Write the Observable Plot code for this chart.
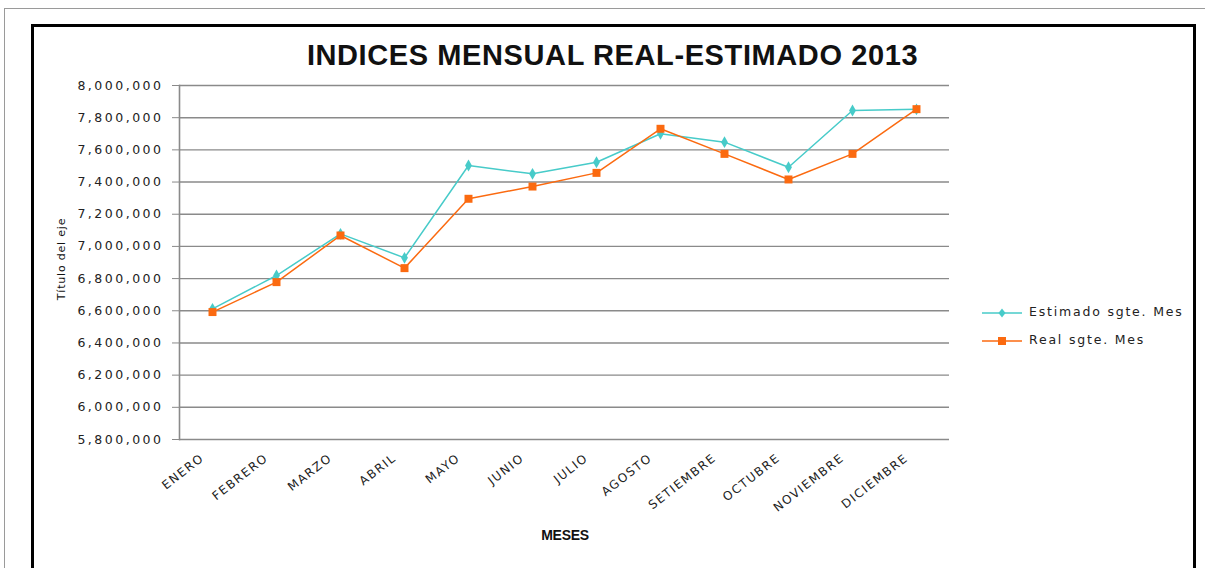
<!DOCTYPE html>
<html>
<head>
<meta charset="utf-8">
<script src="https://cdn.jsdelivr.net/npm/d3@7"></script>
<script src="https://cdn.jsdelivr.net/npm/@observablehq/plot@0.6"></script>
<style>
  html, body { margin: 0; padding: 0; background: #fff; }
  #page { position: relative; width: 1205px; height: 568px; overflow: hidden; background: #fff; }
  #outer { position: absolute; left: 4px; top: 8px; width: 1210px; height: 600px; border-left: 1px solid #9a9a9a; border-top: 1px solid #9a9a9a; }
  #box { position: absolute; left: 31px; top: 24px; width: 1159px; height: 600px; border: 3px solid #000; }
  #chart { position: absolute; left: 0; top: 0; }
  #title { position: absolute; left: 0; width: 1225px; top: 39px; text-align: center; letter-spacing: 0.6px;
           font-family: "Liberation Sans", Arial, sans-serif; font-weight: bold; font-size: 29px; color: #111; line-height: normal; }
  #xlabel { position: absolute; left: 505px; width: 120px; top: 527px; text-align: center;
            font-family: "Liberation Sans", Arial, sans-serif; font-weight: bold; font-size: 14px; color: #111; letter-spacing: -0.3px; }
  #ylabel { position: absolute; left: 61px; top: 259px; transform: translate(-50%, -50%) rotate(-90deg); white-space: nowrap;
            font-family: "DejaVu Sans", Verdana, sans-serif; font-size: 11px; letter-spacing: 0.8px; color: #111; }
  .leg { position: absolute; left: 977px; font-family: "DejaVu Sans", Verdana, sans-serif; font-size: 12.5px; color: #222; letter-spacing: 1.8px; white-space: nowrap; }
  .leg svg { vertical-align: middle; margin-right: 4px; }
</style>
</head>
<body>
<div id="page">
  <div id="outer"></div>
  <div id="box"></div>
  <div id="title">INDICES MENSUAL REAL-ESTIMADO 2013</div>
  <div id="chart"></div>
  <div id="ylabel">Título del eje</div>
  <div id="xlabel">MESES</div>
  <div class="leg" style="top:304px"><svg width="48" height="12"><line x1="5" x2="45" y1="6" y2="6" stroke="#47cbc9" stroke-width="1.5"/><path d="M25,1.5 L28.5,6 L25,10.5 L21.5,6 Z" fill="#47cbc9"/></svg>Estimado sgte. Mes</div>
  <div class="leg" style="top:332px"><svg width="48" height="12"><line x1="5" x2="45" y1="6" y2="6" stroke="#fb6a10" stroke-width="1.5"/><rect x="21" y="2" width="8" height="8" fill="#fb6a10"/></svg>Real sgte. Mes</div>
</div>
<script>
const months = ["ENERO","FEBRERO","MARZO","ABRIL","MAYO","JUNIO","JULIO","AGOSTO","SETIEMBRE","OCTUBRE","NOVIEMBRE","DICIEMBRE"];
const estimado = [6612000, 6819000, 7078000, 6929000, 7503000, 7451000, 7523000, 7700000, 7648000, 7492000, 7845000, 7852000];
const real = [6592000, 6778000, 7068000, 6865000, 7296000, 7372000, 7457000, 7731000, 7575000, 7416000, 7575000, 7853000];
const yTicks = d3.range(5800000, 8000001, 200000);

const estData = months.map((m, i) => ({mes: m, valor: estimado[i]}));
const realData = months.map((m, i) => ({mes: m, valor: real[i]}));

const cyan = "#47cbc9", orange = "#fb6a10";

const chart = Plot.plot({
  width: 1205,
  height: 568,
  marginLeft: 179,
  marginRight: 256,
  marginTop: 85,
  marginBottom: 129,
  style: { fontFamily: "DejaVu Sans, Verdana, sans-serif", fontSize: "12px", color: "#222", background: "transparent" },
  x: { type: "point", domain: months, padding: 0.5 },
  y: { domain: [5800000, 8000000] },
  marks: [
    Plot.gridY(yTicks, { stroke: "#8a8a8a", strokeOpacity: 1, strokeWidth: 1.4 }),
    Plot.frame({ anchor: "left", stroke: "#8a8a8a", strokeWidth: 1.6 }),
    Plot.axisY(yTicks, { tickFormat: d3.format(","), tickSize: 7, tickPadding: 9, stroke: "#8a8a8a", fontSize: 12.5, label: null }),
    Plot.axisX({ tickRotate: -38, tickSize: 0, tickPadding: 17, dx: -10, fontSize: 12, label: null }),
    Plot.line(estData, { x: "mes", y: "valor", stroke: cyan, strokeWidth: 1.5 }),
    Plot.line(realData, { x: "mes", y: "valor", stroke: orange, strokeWidth: 1.5 }),
    Plot.dot(estData, { x: "mes", y: "valor", symbol: "diamond", r: 3.6, fill: cyan }),
    Plot.dot(realData, { x: "mes", y: "valor", symbol: "square", r: 4.5, fill: orange })
  ]
});
d3.select(chart).selectAll('g[aria-label="y-axis tick label"]').attr("letter-spacing", "2.5px");
d3.select(chart).selectAll('g[aria-label="x-axis tick label"]').attr("letter-spacing", "1.5px");
document.getElementById("chart").appendChild(chart);
</script>
</body>
</html>
